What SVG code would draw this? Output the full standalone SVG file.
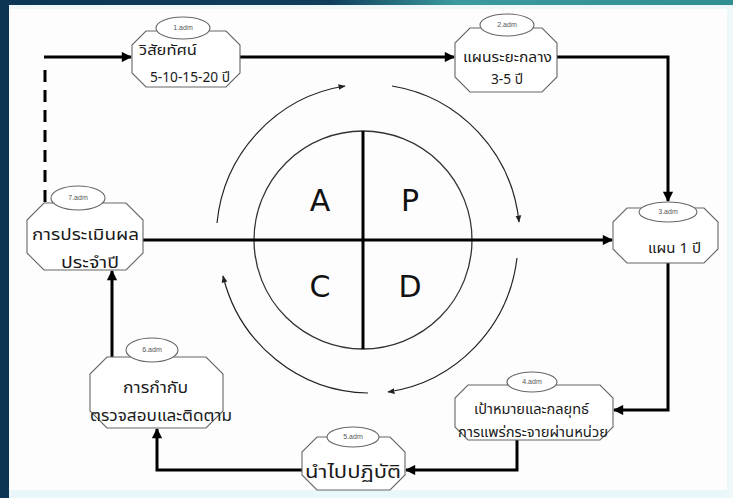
<svg xmlns="http://www.w3.org/2000/svg" width="733" height="498" viewBox="0 0 733 498">
  <defs>
    <linearGradient id="topBar" x1="0" y1="0" x2="1" y2="0">
      <stop offset="0" stop-color="#0c3554"/>
      <stop offset="0.45" stop-color="#0f3e5c"/>
      <stop offset="0.62" stop-color="#3a9a9e"/>
      <stop offset="1" stop-color="#2f8f90"/>
    </linearGradient>
    <marker id="arrow" viewBox="0 0 10 10" refX="9" refY="5" markerWidth="4" markerHeight="3.4" orient="auto" markerUnits="strokeWidth">
      <path d="M0 0 L10 5 L0 10 z" fill="#000"/>
    </marker>
    <marker id="arrowThin" viewBox="0 0 10 10" refX="9" refY="5" markerWidth="6" markerHeight="6" orient="auto" markerUnits="strokeWidth">
      <path d="M0 1 L10 5 L0 9 z" fill="#222"/>
    </marker>
  </defs>
  <style>
    .oct { fill: #fff; stroke: #666; stroke-width: 1.1; }
    .tag { fill: #fff; stroke: #666; stroke-width: 1.1; }
    .tagText { font-family: "Liberation Sans", Arial, sans-serif; font-size: 7px; fill: #555; text-anchor: middle; }
    .label { font-family: "Noto Sans Thai", "Tahoma", "DejaVu Sans", sans-serif; font-size: 14px; fill: #1a1a1a; }
    .conn { fill: none; stroke: #000; stroke-width: 3; }
    .cycle { fill: none; stroke: #222; stroke-width: 1.2; }
    .pdca { font-family: "DejaVu Sans", "Liberation Sans", sans-serif; font-size: 30px; fill: #111; text-anchor: middle; }
  </style>

  <!-- page frame -->
  <rect x="0" y="0" width="733" height="498" fill="#fdfdfd"/>
  <rect x="0" y="490" width="733" height="8" fill="#e9f6fa"/>
  <rect x="727" y="0" width="6" height="498" fill="#eef8fb"/>
  <rect x="0" y="0" width="733" height="5" fill="url(#topBar)"/>
  <rect x="0" y="5" width="733" height="4" fill="#eef7fa"/>
  <rect x="0" y="0" width="9" height="498" fill="#0c3554"/>

  <!-- PDCA wheel -->
  <g id="cycle">
    <path class="cycle" d="M217 223 A152 154 0 0 1 345 86" marker-end="url(#arrowThin)"/>
    <path class="cycle" d="M392 86 A152 154 0 0 1 519 222" marker-end="url(#arrowThin)"/>
    <path class="cycle" d="M517 258 A152 154 0 0 1 388 392" marker-end="url(#arrowThin)"/>
    <path class="cycle" d="M368 393 A152 154 0 0 1 223 276" marker-end="url(#arrowThin)"/>
    <circle cx="363" cy="240" r="109" fill="none" stroke="#333" stroke-width="1.3"/>
    <line x1="363" y1="131" x2="363" y2="349" stroke="#000" stroke-width="3"/>
    <text class="pdca" x="320" y="211">A</text>
    <text class="pdca" x="410" y="211">P</text>
    <text class="pdca" x="320" y="297">C</text>
    <text class="pdca" x="410" y="297">D</text>
  </g>

  <!-- connectors -->
  <g id="connectors">
    <path class="conn" d="M45 202 V62" stroke-dasharray="12 8"/>
    <path class="conn" d="M44 57 H131" marker-end="url(#arrow)"/>
    <path class="conn" d="M240 57 H454" marker-end="url(#arrow)"/>
    <path class="conn" d="M557 57 H668 V201" marker-end="url(#arrow)"/>
    <path class="conn" d="M143 240 H612" marker-end="url(#arrow)"/>
    <path class="conn" d="M668 263 V410 H614" marker-end="url(#arrow)"/>
    <path class="conn" d="M517 440 V470 H406" marker-end="url(#arrow)"/>
    <path class="conn" d="M302 470 H157 V429" marker-end="url(#arrow)"/>
    <path class="conn" d="M112 357 V271" marker-end="url(#arrow)"/>
  </g>

  <!-- 1: vision -->
  <g id="node1">
    <polygon class="oct" points="146,31 226,31 240,45 240,73 226,87 146,87 132,73 132,45"/>
    <ellipse class="tag" cx="183" cy="28" rx="27" ry="11"/>
    <text class="tagText" x="183" y="30">1.adm</text>
    <text class="label" x="139" y="55" textLength="58" lengthAdjust="spacingAndGlyphs">วิสัยทัศน์</text>
    <text class="label" x="150" y="82" textLength="80" lengthAdjust="spacingAndGlyphs">5-10-15-20 ปี</text>
  </g>

  <!-- 2: mid-term plan -->
  <g id="node2">
    <polygon class="oct" points="470,28 542,28 557,43 557,77 542,92 470,92 455,77 455,43"/>
    <ellipse class="tag" cx="507" cy="25" rx="27" ry="11"/>
    <text class="tagText" x="507" y="27">2.adm</text>
    <text class="label" x="463" y="62" textLength="89" lengthAdjust="spacingAndGlyphs">แผนระยะกลาง</text>
    <text class="label" x="491" y="84" textLength="32" lengthAdjust="spacingAndGlyphs">3-5 ปี</text>
  </g>

  <!-- 3: one-year plan -->
  <g id="node3">
    <polygon class="oct" points="627,208 704,208 718,222 718,249 704,263 627,263 613,249 613,222"/>
    <ellipse class="tag" cx="668" cy="212" rx="29" ry="10"/>
    <text class="tagText" x="668" y="214">3.adm</text>
    <text class="label" x="648" y="253" textLength="53" lengthAdjust="spacingAndGlyphs">แผน 1 ปี</text>
  </g>

  <!-- 4: targets and strategy -->
  <g id="node4">
    <polygon class="oct" points="468,385 600,385 613,398 613,427 600,440 468,440 455,427 455,398"/>
    <ellipse class="tag" cx="532" cy="382" rx="25" ry="10"/>
    <text class="tagText" x="532" y="384">4.adm</text>
    <text class="label" x="474" y="414" textLength="115" lengthAdjust="spacingAndGlyphs">เป้าหมายและกลยุทธ์</text>
    <text class="label" x="458" y="437" textLength="150" lengthAdjust="spacingAndGlyphs">การแพร่กระจายผ่านหน่วย</text>
  </g>

  <!-- 5: implementation -->
  <g id="node5">
    <polygon class="oct" points="317,437 390,437 405,452 405,475 390,490 317,490 302,475 302,452"/>
    <ellipse class="tag" cx="353" cy="437" rx="26" ry="10"/>
    <text class="tagText" x="353" y="439">5.adm</text>
    <text class="label" x="305" y="478" style="font-size:17px" textLength="96" lengthAdjust="spacingAndGlyphs">นำไปปฏิบัติ</text>
  </g>

  <!-- 6: supervision and follow-up -->
  <g id="node6">
    <polygon class="oct" points="107,357 206,357 223,374 223,411 206,428 107,428 90,411 90,374"/>
    <ellipse class="tag" cx="152" cy="350" rx="26" ry="12"/>
    <text class="tagText" x="152" y="352">6.adm</text>
    <text class="label" x="123" y="393" style="font-size:15px" textLength="65" lengthAdjust="spacingAndGlyphs">การกำกับ</text>
    <text class="label" x="90" y="421" style="font-size:15px" textLength="142" lengthAdjust="spacingAndGlyphs">ตรวจสอบและติดตาม</text>
  </g>

  <!-- 7: annual evaluation -->
  <g id="node7">
    <polygon class="oct" points="44,203 126,203 143,220 143,253 126,270 44,270 27,253 27,220"/>
    <ellipse class="tag" cx="78" cy="198" rx="27" ry="12"/>
    <text class="tagText" x="78" y="200">7.adm</text>
    <text class="label" x="32" y="240" style="font-size:15px" textLength="107" lengthAdjust="spacingAndGlyphs">การประเมินผล</text>
    <text class="label" x="61" y="268" style="font-size:15px" textLength="58" lengthAdjust="spacingAndGlyphs">ประจำปี</text>
  </g>
</svg>
